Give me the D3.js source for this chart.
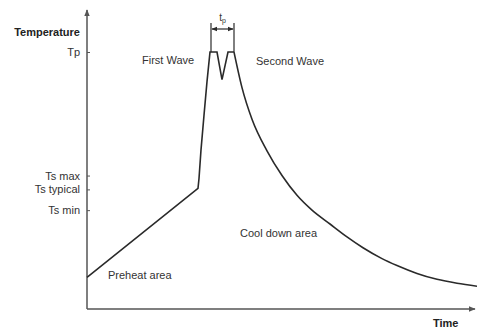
<!DOCTYPE html>
<html><head><meta charset="utf-8">
<script src="https://cdn.jsdelivr.net/npm/d3@7"></script>
<style>
html,body{margin:0;padding:0;background:#fff;}
svg{display:block;font-family:"Liberation Sans",Arial,sans-serif;}
</style></head>
<body><svg id="c" width="477" height="329"></svg>
<script>
// Temperature profile (time units, temperature units)
const profileTime = [0,111,112,114,117,120,123,130,135,141,147];
const profileTemp = [32,122,132,161,196,230,260,260,232,260,260];
const coolTime = [147,155,165,180,195,210,225,243,260,276,295,310,330,350,370,390];
const coolTemp = [260,224,192,160,135,115,100,86,73,62,51,44,36,30,26,23];
const tickValues = [260,135,121,100];
const tickLabels = ["Tp","Ts max","Ts typical","Ts min"];
const tpBounds = [124,147];
const regionLabels = ["First Wave","Second Wave","Cool down area","Preheat area"];
const regionTime = [55,169,153,21];
const regionTemp = [248,247,73,30];

const svg = d3.select("#c");
const x = d3.scaleLinear().domain([0,390]).range([87,477]);
const y = d3.scaleLinear().domain([0,260]).range([309,52]);

const ink = "#2a2a2a", axisCol = "#555", txt = "#333";

svg.append("defs").html(`
<marker id="ah" viewBox="0 0 10 10" refX="9" refY="5" markerWidth="7" markerHeight="7" orient="auto-start-reverse" markerUnits="userSpaceOnUse">
<path d="M0,1 L10,5 L0,9 z" fill="${axisCol}"/></marker>
<marker id="dh" viewBox="0 0 10 10" refX="9" refY="5" markerWidth="6" markerHeight="6" orient="auto-start-reverse" markerUnits="userSpaceOnUse">
<path d="M0,1 L10,5 L0,9 z" fill="${ink}"/></marker>`);

svg.append("line").attr("x1",x(0)).attr("y1",y(0)).attr("x2",x(0)).attr("y2",y(0)-299)
  .attr("stroke",axisCol).attr("stroke-width",1.5).attr("marker-end","url(#ah)");
svg.append("line").attr("x1",x(0)).attr("y1",y(0)).attr("x2",x(388)).attr("y2",y(0))
  .attr("stroke",axisCol).attr("stroke-width",1.5).attr("marker-end","url(#ah)");

const yAxis = d3.axisLeft(y).tickValues(tickValues)
  .tickFormat((d,i)=>tickLabels[i]).tickSizeInner(-3).tickSizeOuter(0).tickPadding(7);
const ga = svg.append("g").attr("transform",`translate(${x(0)},0)`).call(yAxis);
ga.select(".domain").remove();
ga.selectAll(".tick line").attr("stroke",axisCol).attr("stroke-width",1);
ga.selectAll(".tick text").attr("fill",txt).style("font-size","11px").style("font-family","'Liberation Sans',Arial,sans-serif");

svg.append("text").attr("x",x(0)-7).attr("y",36).attr("text-anchor","end")
  .attr("fill","#222").style("font-size","11px").style("font-weight","bold").text("Temperature");
svg.append("text").attr("x",x(346)).attr("y",327).attr("text-anchor","start")
  .attr("fill","#222").style("font-size","11px").style("font-weight","bold").text("Time");

const line = d3.line().x(d=>x(d[0])).y(d=>y(d[1]));
svg.append("path").datum(profileTime.map((t,i)=>[t,profileTemp[i]]))
  .attr("d",line).attr("fill","none").attr("stroke",ink).attr("stroke-width",1.6).attr("stroke-linejoin","miter");
svg.append("path").datum(coolTime.map((t,i)=>[t,coolTemp[i]]))
  .attr("d",d3.line().x(d=>x(d[0])).y(d=>y(d[1])).curve(d3.curveMonotoneX))
  .attr("fill","none").attr("stroke",ink).attr("stroke-width",1.6);

const topY = y(260) - 29, arrY = y(260) - 23;
tpBounds.forEach(t=>{
  svg.append("line").attr("x1",x(t)).attr("x2",x(t)).attr("y1",y(260)).attr("y2",topY)
    .attr("stroke",ink).attr("stroke-width",1.2);
});
svg.append("line").attr("x1",x(tpBounds[0])+1).attr("x2",x(tpBounds[1])-1).attr("y1",arrY).attr("y2",arrY)
  .attr("stroke",ink).attr("stroke-width",1.2).attr("marker-start","url(#dh)").attr("marker-end","url(#dh)");
const tpT = svg.append("text").attr("x",(x(tpBounds[0])+x(tpBounds[1]))/2).attr("y",arrY-8)
  .attr("text-anchor","middle").attr("fill",txt).style("font-size","10px");
tpT.append("tspan").text("t");
tpT.append("tspan").attr("dy",2).style("font-size","7px").text("p");

svg.selectAll("text.reg").data(regionLabels).enter().append("text").attr("class","reg")
  .attr("x",(d,i)=>x(regionTime[i])).attr("y",(d,i)=>y(regionTemp[i]))
  .attr("fill",txt).style("font-size","11px").text(d=>d);
</script></body></html>
